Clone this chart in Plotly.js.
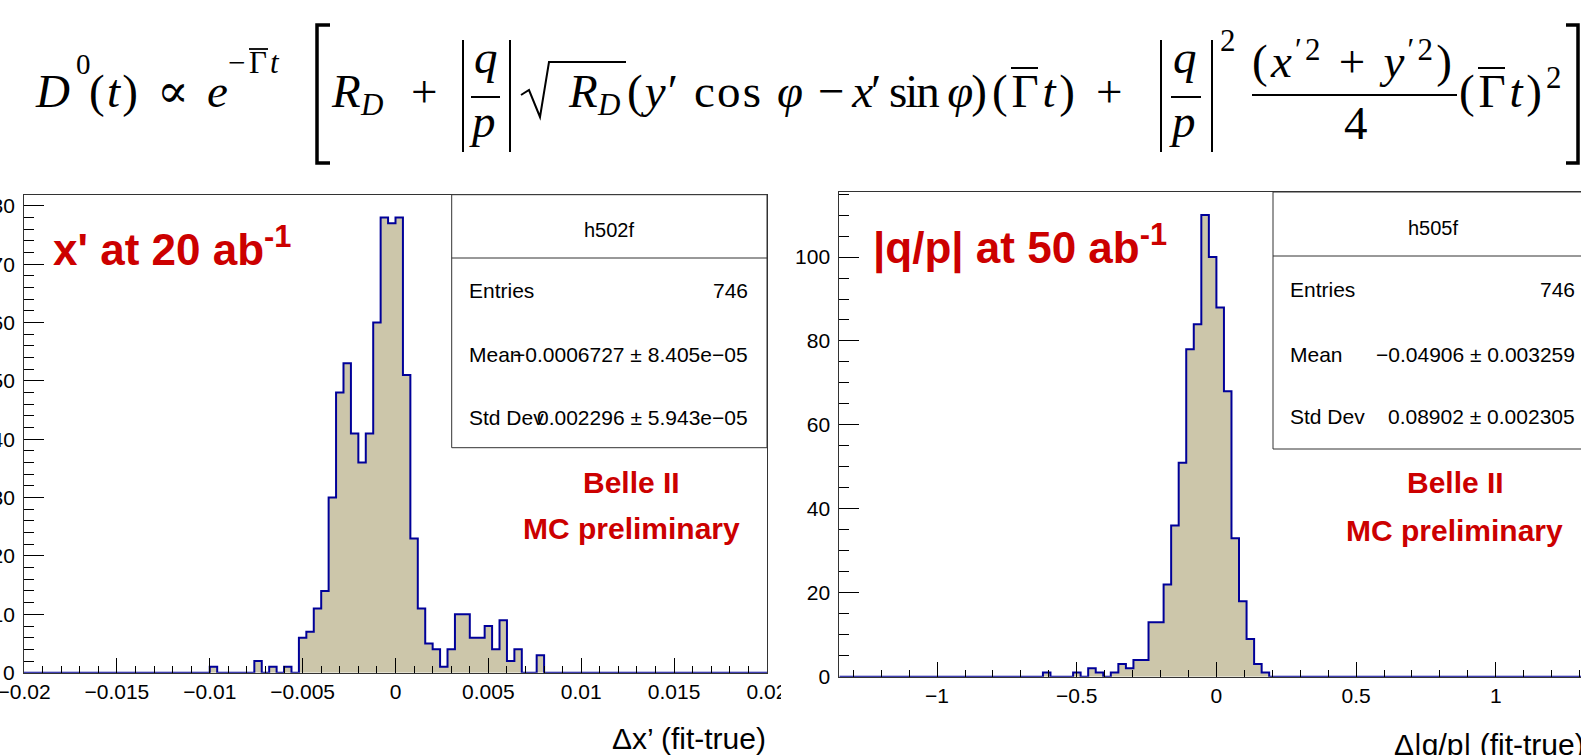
<!DOCTYPE html>
<html>
<head>
<meta charset="utf-8">
<script src="https://cdn.plot.ly/plotly-3.0.1.min.js"></script>
<style>
html,body{margin:0;padding:0;background:#fff;overflow:hidden;width:1581px;height:755px;}
#wrap{position:relative;width:1581px;height:755px;overflow:hidden;background:#fff;}
#chart{position:absolute;left:0;top:0;width:1620px;height:755px;}
#formula{position:absolute;left:0;top:0;pointer-events:none;}
#formula line,#formula path{stroke:#000;fill:none;}
</style>
</head>
<body>
<div id="wrap">
<div id="chart"></div>
<svg id="formula" width="1581" height="180" xmlns="http://www.w3.org/2000/svg"
     font-family="'Liberation Serif','Times New Roman','DejaVu Serif',serif" font-size="47" fill="#000">
  <text x="36" y="107" font-style="italic">D</text>
  <text x="76" y="74" font-size="29">0</text>
  <text x="89" y="107" textLength="49" lengthAdjust="spacing">(<tspan font-style="italic">t</tspan>)</text>
  <text x="157" y="107" textLength="32" lengthAdjust="spacingAndGlyphs">∝</text>
  <text x="207" y="107" font-style="italic">e</text>
  <text x="228" y="73" font-size="31">−</text>
  <text x="249" y="73" font-size="31">Γ</text>
  <text x="270" y="73" font-size="31" font-style="italic">t</text>
  <line x1="249" y1="49" x2="268" y2="49" stroke-width="1.8"/>
  <path d="M330,25 H317 V163 H330" stroke-width="3.5"/>
  <text x="332" y="107" font-style="italic">R</text>
  <text x="361" y="115" font-size="31" font-style="italic">D</text>
  <text x="411" y="107">+</text>
  <line x1="463" y1="40" x2="463" y2="152" stroke-width="2"/>
  <line x1="510" y1="40" x2="510" y2="152" stroke-width="2"/>
  <text x="474" y="73" font-style="italic">q</text>
  <line x1="471" y1="97" x2="500" y2="97" stroke-width="2"/>
  <text x="472" y="137" font-style="italic">p</text>
  <path d="M521,95 L529,90 L540,117 L549,62 H626" stroke-width="2"/>
  <text x="569" y="107" font-style="italic">R</text>
  <text x="598" y="115" font-size="31" font-style="italic">D</text>
  <text x="627" y="107" textLength="176" lengthAdjust="spacing">(<tspan font-style="italic">y</tspan>′ cos <tspan font-style="italic">φ</tspan></text>
  <text x="818" y="107" textLength="169" lengthAdjust="spacing">− <tspan font-style="italic">x</tspan>′ sin <tspan font-style="italic">φ</tspan>)</text>
  <text x="992" y="107" textLength="83" lengthAdjust="spacing">(Γ<tspan font-style="italic">t</tspan>)</text>
  <line x1="1011" y1="68" x2="1038" y2="68" stroke-width="2"/>
  <text x="1096" y="107">+</text>
  <line x1="1161" y1="40" x2="1161" y2="152" stroke-width="2"/>
  <line x1="1212" y1="40" x2="1212" y2="152" stroke-width="2"/>
  <text x="1173" y="73" font-style="italic">q</text>
  <line x1="1171" y1="97" x2="1201" y2="97" stroke-width="2"/>
  <text x="1172" y="137" font-style="italic">p</text>
  <text x="1220" y="51" font-size="31">2</text>
  <text x="1252" y="77" textLength="200" lengthAdjust="spacing">(<tspan font-style="italic">x</tspan><tspan font-size="31" dy="-17">′2</tspan><tspan dy="17"> + </tspan><tspan font-style="italic">y</tspan><tspan font-size="31" dy="-17">′2</tspan><tspan dy="17">)</tspan></text>
  <line x1="1252" y1="95" x2="1457" y2="95" stroke-width="2"/>
  <text x="1344" y="139">4</text>
  <text x="1459" y="107" textLength="83" lengthAdjust="spacing">(Γ<tspan font-style="italic">t</tspan>)</text>
  <line x1="1478" y1="68" x2="1505" y2="68" stroke-width="2"/>
  <text x="1546" y="88" font-size="31">2</text>
  <path d="M1566,25 H1578 V163 H1566" stroke-width="3.5"/>
</svg>
</div>
<script>
// ---------------- data ----------------
// h502f : Delta x' (fit-true), 100 bins from -0.02 to 0.02
const xBinLow = -0.02;
const xBinWidth = 0.0004;
const xCounts = [
  0,0,0,0,0,0,0,0,0,0,
  0,0,0,0,0,0,0,0,0,0,
  0,0,0,0,0,1,0,0,0,0,
  0,2,0,1,0,1,0,6,7,11,
  14,30,48,53,41,36,41,60,78,77,
  78,51,23,11,5,4,1,4,10,10,
  6,6,8,4,9,2,4,0,0,3,
  0,0,0,0,0,0,0,0,0,0,
  0,0,0,0,0,0,0,0,0,0,
  0,0,0,0,0,0,0,0,0,0
];
// h505f : Delta |q/p| (fit-true), 100 bins from -1.35 to 1.35
const qpBinLow = -1.35;
const qpBinWidth = 0.027;
const qpCounts = [
  0,0,0,0,0,0,0,0,0,0,
  0,0,0,0,0,0,0,0,0,0,
  0,0,0,0,0,0,0,1,0,0,
  0,1,0,2,1,0,1,3,2,4,
  4,13,13,22,36,51,78,84,110,100,
  88,68,33,18,9,3,1,0,0,0,
  0,0,0,0,0,0,0,0,0,0,
  0,0,0,0,0,0,0,0,0,0,
  0,0,0,0,0,0,0,0,0,0,
  0,0,0,0,0,0,0,0,0,0
];
const statLabels = ["Entries", "Mean", "Std Dev"];
const xStatName = "h502f";
const xStatValues = ["746", "−0.0006727 ± 8.405e−05", "0.002296 ± 5.943e−05"];
const qpStatName = "h505f";
const qpStatValues = ["746", "−0.04906 ± 0.003259", "0.08902 ± 0.002305"];
const xPanelLabel = "x' at 20 ab<sup>-1</sup>";
const qpPanelLabel = "|q/p| at 50 ab<sup>-1</sup>";
const xAxisTitle = "Δx’ (fit-true)";
const qpAxisTitle = "Δ|q/p| (fit-true)";
const stamp = ["Belle II", "MC preliminary"];

// ---------------- helpers ----------------
function stepSeries(low, width, counts){
  const xs = [], ys = [];
  for (let i = 0; i <= counts.length; i++){
    xs.push(low + i*width);
    ys.push(i < counts.length ? counts[i] : counts[counts.length-1]);
  }
  return {xs, ys};
}
const W = 1620, H = 755;
const px = v => v / W;
const py = v => 1 - v / H;
const L = {x0:24, x1:767, y0:194.7, y1:672.7};
const R = {x0:839.3, x1:1593.5, y0:192, y1:676.7};
const FONT = 'Liberation Sans, Arial, Helvetica, sans-serif';
const RED = '#cc0000';
const FILL = 'rgb(204,198,170)';
const LINE = 'rgb(0,0,153)';

const hx = stepSeries(xBinLow, xBinWidth, xCounts);
const hq = stepSeries(qpBinLow, qpBinWidth, qpCounts);
const xMax = Math.max(...xCounts) * 1.05;
const qMax = Math.max(...qpCounts) * 1.05;

function xAxis(p, range, dtick, mdtick, anchor){
  return {
    domain:[px(p.x0), px(p.x1)], range:range, anchor:anchor,
    tickmode:'linear', tick0:0, dtick:dtick,
    ticks:'inside', ticklen:15, tickwidth:1, tickcolor:'#000',
    minor:{tickmode:'linear', tick0:0, dtick:mdtick, ticks:'inside', ticklen:7, tickwidth:1, tickcolor:'#000', showgrid:false},
    showline:true, mirror:true, linecolor:'#333', linewidth:1,
    showgrid:false, zeroline:false, fixedrange:true, ticklabeloverflow:'allow',
    tickfont:{family:FONT, size:21, color:'#000'}
  };
}
function yAxis(p, range, dtick, mdtick, anchor){
  return {
    domain:[py(p.y1), py(p.y0)], range:range, anchor:anchor,
    tickmode:'linear', tick0:0, dtick:dtick,
    ticks:'inside', ticklen:20, tickwidth:1, tickcolor:'#000',
    minor:{tickmode:'linear', tick0:0, dtick:mdtick, ticks:'inside', ticklen:10, tickwidth:1, tickcolor:'#000', showgrid:false},
    showline:true, mirror:true, linecolor:'#333', linewidth:1,
    showgrid:false, zeroline:false, fixedrange:true, ticklabelstandoff:4, ticklabeloverflow:'allow',
    tickfont:{family:FONT, size:21, color:'#000'}
  };
}

const traces = [
  {type:'scatter', mode:'lines', x:hx.xs, y:hx.ys, xaxis:'x', yaxis:'y',
   line:{shape:'hv', color:LINE, width:2}, fill:'tozeroy', fillcolor:FILL, hoverinfo:'skip', showlegend:false},
  {type:'scatter', mode:'lines', x:hq.xs, y:hq.ys, xaxis:'x2', yaxis:'y2',
   line:{shape:'hv', color:LINE, width:2}, fill:'tozeroy', fillcolor:FILL, hoverinfo:'skip', showlegend:false}
];

const ann = [];
function addText(text, x, y, xa, ya, size, color){
  ann.push({xref:'paper', yref:'paper', x:px(x), y:py(y), xanchor:xa, yanchor:ya,
            text:text, showarrow:false, font:{family:FONT, size:size, color:color}});
}
const shapes = [];
function statBox(p, name, values, boxTop, headerY, boxBottom, nameY, rowsY, labelX, valueX){
  shapes.push({type:'rect', xref:'paper', yref:'paper', x0:px(p.x0b), x1:px(p.x1), y0:py(boxBottom), y1:py(boxTop),
               line:{color:'#333', width:1}, fillcolor:'#fff', layer:'above'});
  shapes.push({type:'line', xref:'paper', yref:'paper', x0:px(p.x0b), x1:px(p.x1), y0:py(headerY), y1:py(headerY),
               line:{color:'#333', width:1}, layer:'above'});
  addText(name, (p.x0b + p.x1)/2, nameY, 'center', 'middle', 20, '#000');
  for (let i = 0; i < statLabels.length; i++){
    addText(statLabels[i], labelX, rowsY[i], 'left', 'middle', 21, '#000');
    addText(values[i], valueX, rowsY[i], 'right', 'middle', 21, '#000');
  }
}
statBox({x0b:451.7, x1:L.x1}, xStatName, xStatValues, L.y0, 258, 447.7, 230, [290.7, 355, 417.3], 467, 750);
statBox({x0b:1273, x1:R.x1}, qpStatName, qpStatValues, R.y0, 256, 449, 228, [289, 354, 416], 1288, 1577);

// the left pad ends before the right pad starts: the last tick label is clipped there
shapes.push({type:'rect', xref:'paper', yref:'paper', x0:px(781), x1:px(813), y0:py(710), y1:py(674),
             line:{width:0}, fillcolor:'#fff', layer:'above'});

addText('<b>' + xPanelLabel + '</b>', 51, 276, 'left', 'bottom', 44, RED);
addText('<b>' + qpPanelLabel + '</b>', 871, 276, 'left', 'bottom', 44, RED);
addText('<b>' + stamp[0] + '</b>', 631, 483, 'center', 'middle', 30, RED);
addText('<b>' + stamp[1] + '</b>', 631.5, 528, 'center', 'middle', 30, RED);
addText('<b>' + stamp[0] + '</b>', 1455, 483, 'center', 'middle', 30, RED);
addText('<b>' + stamp[1] + '</b>', 1454.5, 530, 'center', 'middle', 30, RED);
addText(xAxisTitle, 768, 738, 'right', 'middle', 30, '#000');
addText(qpAxisTitle, 1392, 744, 'left', 'middle', 30, '#000');

const layout = {
  width:W, height:H, margin:{l:0, r:0, t:0, b:0},
  paper_bgcolor:'#fff', plot_bgcolor:'#fff', showlegend:false,
  xaxis: xAxis(L, [-0.02, 0.02], 0.005, 0.001, 'y'),
  yaxis: yAxis(L, [0, xMax], 10, 2, 'x'),
  xaxis2: xAxis(R, [-1.35, 1.35], 0.5, 0.1, 'y2'),
  yaxis2: yAxis(R, [0, qMax], 20, 5, 'x2'),
  shapes: shapes,
  annotations: ann
};
Plotly.newPlot('chart', traces, layout, {staticPlot:true, displayModeBar:false, responsive:false});
</script>
</body>
</html>
